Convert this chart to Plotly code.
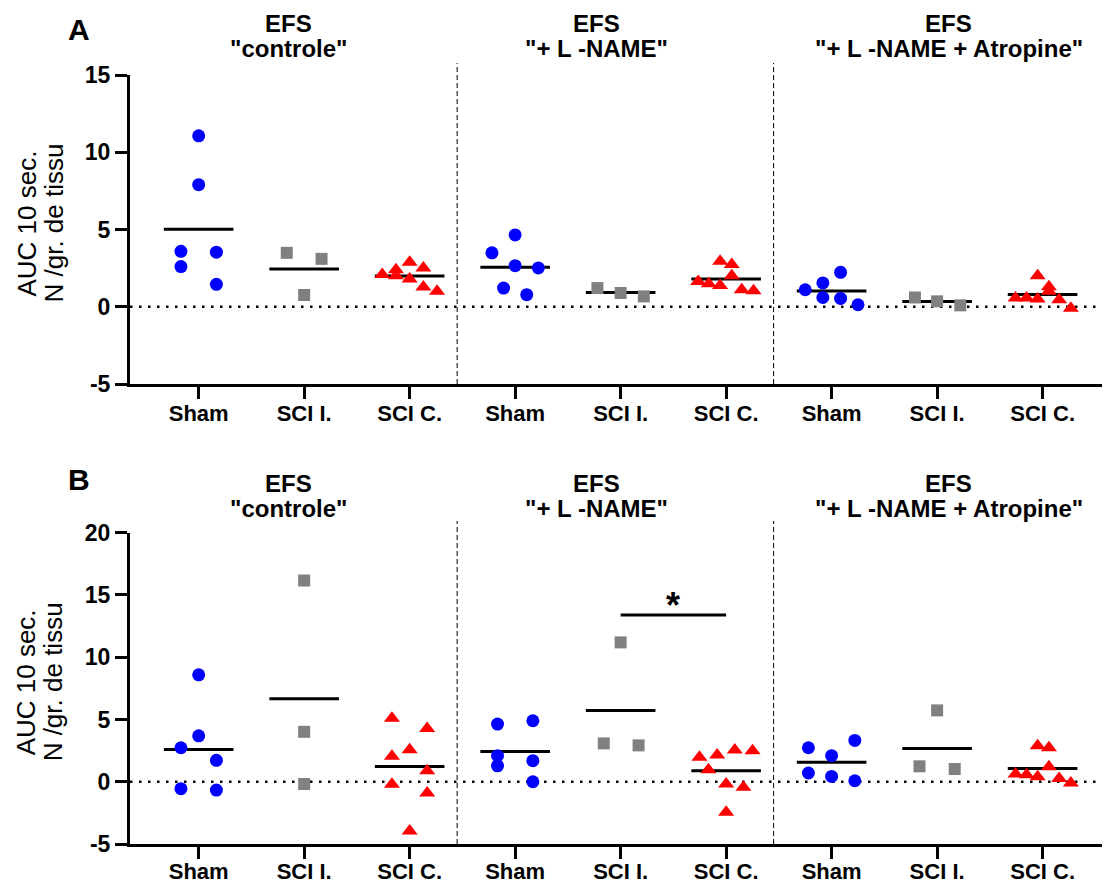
import numpy as np
import plotly.graph_objects as go

# ---------------- data ----------------
tick_labels = ["Sham", "SCI I.", "SCI C.", "Sham", "SCI I.", "SCI C.", "Sham", "SCI I.", "SCI C."]
conditions = ['"controle"', '"+ L -NAME"', '"+ L -NAME + Atropine"']
yticks_A = [-5, 0, 5, 10, 15]
yticks_B = [-5, 0, 5, 10, 15, 20]

# Panel A  (AUC 10 sec., N / gr. de tissu)
A_ctrl_sham = [11.06, 7.9, 3.59, 3.53, 2.6, 1.45]
A_ctrl_scii = [3.49, 3.1, 0.76]
A_ctrl_scic = [2.08, 2.4, 2.01, 2.88, 1.8, 2.51, 1.28, 1.0]
A_lname_sham = [4.65, 3.49, 2.66, 2.51, 1.21, 0.78]
A_lname_scii = [1.21, 0.89, 0.67]
A_lname_scic = [2.94, 2.73, 2.01, 1.64, 1.49, 1.38, 1.1, 1.04]
A_atr_sham = [1.1, 1.54, 2.23, 0.6, 0.54, 0.13]
A_atr_scii = [0.6, 0.35, 0.09]
A_atr_scic = [2.01, 1.3, 1.0, 0.56, 0.56, 0.5, 0.45, -0.09]

# Panel B
B_ctrl_sham = [8.59, 3.69, 2.73, 1.72, -0.56, -0.67]
B_ctrl_scii = [16.16, 4.01, -0.18]
B_ctrl_scic = [5.09, 4.28, 2.57, 2.04, 0.88, -0.21, -0.91, -3.96]
B_lname_sham = [4.63, 4.9, 2.09, 1.28, 1.69, 0.0]
B_lname_scii = [11.19, 3.08, 2.92]
B_lname_scic = [1.96, 2.14, 2.54, 2.49, 0.96, -0.18, -0.45, -2.46]
B_atr_sham = [2.73, 2.09, 3.32, 0.7, 0.43, 0.08]
B_atr_scii = [5.73, 1.24, 1.02]
B_atr_scic = [2.89, 2.73, 1.2, 0.62, 0.57, 0.4, 0.27, -0.1]

# significance (panel B, SCI I. vs SCI C. in "+ L -NAME")
sig_pair = [4, 5]
sig_y = 13.4
sig_text = "*"

# ---------------- layout constants (scatter spread, styles) ----------------
jit_A = [
    [0, 0, -0.168, 0.168, -0.168, 0.168],
    [-0.165, 0.165, 0],
    [-0.26, -0.13, -0.13, 0, 0, 0.13, 0.13, 0.26],
    [0, -0.22, 0, 0.22, -0.11, 0.11],
    [-0.22, 0, 0.22],
    [-0.057, 0.053, 0.053, -0.265, -0.165, -0.057, 0.148, 0.26],
    [-0.25, -0.083, 0.085, -0.083, 0.085, 0.25],
    [-0.21, 0, 0.22],
    [-0.047, 0.06, 0.06, -0.256, -0.152, -0.047, 0.157, 0.268],
]
jit_B = [
    [0, 0, -0.168, 0.168, -0.168, 0.168],
    [0, 0, 0],
    [-0.168, 0.166, 0, -0.168, 0.166, -0.168, 0.166, 0],
    [-0.167, 0.168, -0.167, -0.167, 0.168, 0.168],
    [0, -0.16, 0.17],
    [-0.253, -0.085, 0.082, 0.25, -0.168, 0, 0.164, 0],
    [-0.22, 0, 0.22, -0.22, 0, 0.22],
    [0, -0.167, 0.167],
    [-0.047, 0.06, 0.06, -0.256, -0.152, -0.047, 0.157, 0.268],
]
styles = [
    dict(symbol="circle", color="#0000FF", size=13),
    dict(symbol="square", color="#808080", size=12),
    dict(symbol="triangle-up", color="#FF0000", size=14),
]
mean_half = 0.33
sep_positions = [2.45, 5.45]
xr = [-0.651, 8.62]

W, H = 1110, 886
OFF = 8  # page body margin of the html page; targets are in screenshot pixels

def px(x):  # screenshot pixel x -> paper
    return (x - OFF) / W

def py(y):  # screenshot pixel y (from top) -> paper
    return 1 - (y - OFF) / H

A_groups = [A_ctrl_sham, A_ctrl_scii, A_ctrl_scic, A_lname_sham, A_lname_scii, A_lname_scic,
            A_atr_sham, A_atr_scii, A_atr_scic]
B_groups = [B_ctrl_sham, B_ctrl_scii, B_ctrl_scic, B_lname_sham, B_lname_scii, B_lname_scic,
            B_atr_sham, B_atr_scii, B_atr_scic]

fig = go.Figure()

def add_panel(groups, jits, xa, ya):
    for i, (vals, jit) in enumerate(zip(groups, jits)):
        st = styles[i % 3]
        m = float(np.mean(vals))
        fig.add_trace(go.Scatter(x=[i - mean_half, i + mean_half], y=[m, m], mode="lines",
                                 line=dict(color="black", width=3), xaxis=xa, yaxis=ya,
                                 showlegend=False, hoverinfo="skip"))
        fig.add_trace(go.Scatter(x=[i + j for j in jit], y=vals, mode="markers",
                                 marker=dict(symbol=st["symbol"], color=st["color"], size=st["size"],
                                             line=dict(width=0)),
                                 xaxis=xa, yaxis=ya, showlegend=False, cliponaxis=False))

add_panel(A_groups, jit_A, "x", "y")
add_panel(B_groups, jit_B, "x2", "y2")

# significance bar
fig.add_trace(go.Scatter(x=sig_pair, y=[sig_y, sig_y], mode="lines",
                         line=dict(color="black", width=3), xaxis="x2", yaxis="y2",
                         showlegend=False, hoverinfo="skip"))

font_fam = "Liberation Sans, Arial, sans-serif"
axis_common = dict(showline=True, linewidth=3, linecolor="black", ticks="outside",
                   ticklen=12, tickwidth=3, tickcolor="black", showgrid=False, zeroline=False,
                   automargin=False)
ytick_font = dict(family=font_fam, size=23, color="black", weight="bold")
xtick_font = dict(family=font_fam, size=22, color="black", weight="bold")

xdom = [px(130), px(1108)]
A_top, A_bot = 75, 384
B_top, B_bot = 532.7, 844

fig.update_layout(
    template="none",
    width=W, height=H, autosize=False,
    margin=dict(l=0, r=0, t=0, b=0, pad=0),
    paper_bgcolor="white", plot_bgcolor="white",
    font=dict(family=font_fam, color="black"),
    xaxis=dict(domain=xdom, range=xr, anchor="y", tickmode="array",
               tickvals=list(range(9)), ticktext=tick_labels, tickfont=xtick_font,
               ticklabelstandoff=-4, **axis_common),
    yaxis=dict(domain=[py(A_bot), py(A_top)], range=[-5, 15], anchor="x",
               tickmode="array", tickvals=yticks_A, ticktext=[str(v) for v in yticks_A],
               tickfont=ytick_font, **axis_common),
    xaxis2=dict(domain=xdom, range=xr, anchor="y2", tickmode="array",
                tickvals=list(range(9)), ticktext=tick_labels, tickfont=xtick_font,
                ticklabelstandoff=-6, **axis_common),
    yaxis2=dict(domain=[py(B_bot), py(B_top)], range=[-5, 20], anchor="x2",
                tickmode="array", tickvals=yticks_B, ticktext=[str(v) for v in yticks_B],
                tickfont=ytick_font, **axis_common),
)

shapes = []
for ya, xa, top_px, bot_px in [("y", "x", 63, A_bot), ("y2", "x2", 521, B_bot)]:
    # dotted zero line
    shapes.append(dict(type="line", xref=f"{xa} domain", x0=0, x1=1, yref=ya, y0=0, y1=0,
                       line=dict(color="black", width=2.5, dash="2.5px,6.5px"), layer="below"))
    for sp in sep_positions:
        shapes.append(dict(type="line", xref=xa, x0=sp, x1=sp, yref="paper",
                           y0=py(bot_px), y1=py(top_px),
                           line=dict(color="black", width=1, dash="5px,3px"), layer="below"))
fig.update_layout(shapes=shapes)

ann = []
title_x = [0.85, 3.77, 7.11]
for xa, y1, y2 in [("x", 24, 49), ("x2", 483, 508)]:
    for cx, cond in zip(title_x, conditions):
        ann.append(dict(text="<b>EFS</b>", xref=xa, x=cx, yref="paper", y=py(y1),
                        showarrow=False, xanchor="center", yanchor="middle",
                        font=dict(size=24, family=font_fam, color="black")))
        ann.append(dict(text=f"<b>{cond}</b>", xref=xa, x=cx, yref="paper", y=py(y2),
                        showarrow=False, xanchor="center", yanchor="middle",
                        font=dict(size=24, family=font_fam, color="black")))
# panel letters
ann.append(dict(text="<b>A</b>", xref="paper", x=px(79), yref="paper", y=py(30), showarrow=False,
                xanchor="center", yanchor="middle", font=dict(size=30, family=font_fam, color="black")))
ann.append(dict(text="<b>B</b>", xref="paper", x=px(79), yref="paper", y=py(480), showarrow=False,
                xanchor="center", yanchor="middle", font=dict(size=30, family=font_fam, color="black")))
# y-axis titles
for cy in [(A_top + A_bot) / 2 - 6, (B_top + B_bot) / 2 - 6]:
    ann.append(dict(text="AUC 10 sec.", xref="paper", x=px(26), yref="paper", y=py(cy),
                    showarrow=False, textangle=-90, xanchor="center", yanchor="middle",
                    font=dict(size=26, family=font_fam, color="black")))
    ann.append(dict(text="N /gr. de tissu", xref="paper", x=px(53), yref="paper", y=py(cy),
                    showarrow=False, textangle=-90, xanchor="center", yanchor="middle",
                    font=dict(size=26, family=font_fam, color="black")))
# significance star
ann.append(dict(text=f"<b>{sig_text}</b>", xref="x2", x=sum(sig_pair) / 2, yref="y2", y=sig_y,
                showarrow=False, xanchor="center", yanchor="bottom", yshift=-13,
                font=dict(size=36, family=font_fam, color="black")))
fig.update_layout(annotations=ann)

fig.write_html("out.html")
